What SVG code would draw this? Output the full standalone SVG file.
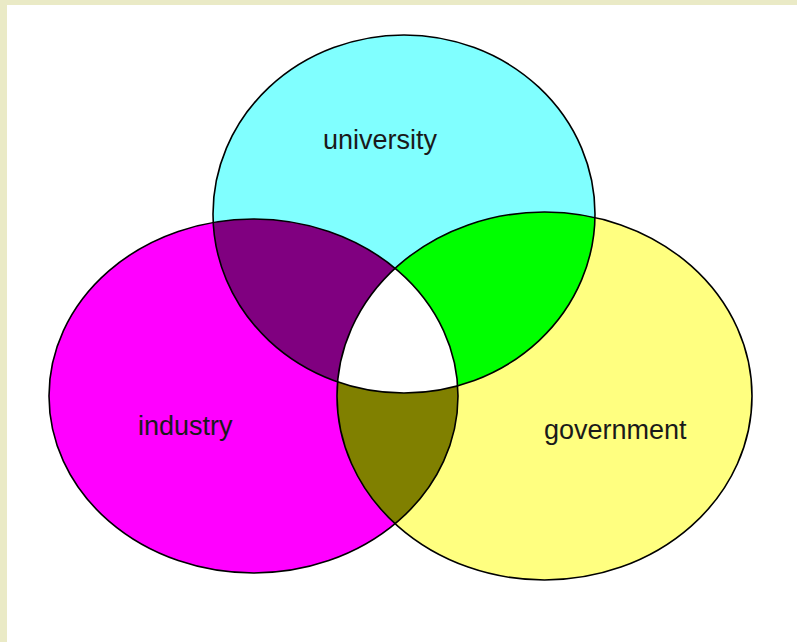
<svg xmlns="http://www.w3.org/2000/svg" width="797" height="642" viewBox="0 0 797 642">
  <style>
    .lbl { font-family: "Liberation Sans", Arial, sans-serif; font-size: 27px; fill: #1a1a1a; }
    .edge { fill: none; stroke: #000; stroke-width: 1.6; }
  </style>
  <defs>
    <ellipse id="uni" cx="404" cy="214" rx="191" ry="179"/>
    <ellipse id="ind" cx="253.5" cy="396" rx="204.5" ry="177"/>
    <ellipse id="gov" cx="544.5" cy="396" rx="207.5" ry="184"/>
    <clipPath id="cUni"><use href="#uni"/></clipPath>
    <clipPath id="cInd"><use href="#ind"/></clipPath>
    <clipPath id="cGov"><use href="#gov"/></clipPath>
  </defs>
  <rect x="0" y="0" width="797" height="642" fill="#eaeac6"/>
  <rect x="7" y="5" width="790" height="637" fill="#ffffff"/>

  <g id="industry">
    <use href="#ind" fill="#ff00ff"/>
  </g>
  <g id="government">
    <use href="#gov" fill="#ffff80"/>
  </g>
  <g id="university">
    <use href="#uni" fill="#80ffff"/>
  </g>

  <g id="overlaps">
    <g clip-path="url(#cUni)"><use href="#ind" fill="#800080"/></g>
    <g clip-path="url(#cUni)"><use href="#gov" fill="#00ff00"/></g>
    <g clip-path="url(#cInd)"><use href="#gov" fill="#808000"/></g>
    <g clip-path="url(#cUni)"><g clip-path="url(#cInd)"><use href="#gov" fill="#ffffff"/></g></g>
  </g>

  <g id="outlines">
    <use href="#ind" class="edge"/>
    <use href="#gov" class="edge"/>
    <use href="#uni" class="edge"/>
  </g>

  <g id="labels">
    <text class="lbl" x="323" y="149">university</text>
    <text class="lbl" x="138" y="435">industry</text>
    <text class="lbl" x="544" y="439">government</text>
  </g>
</svg>
